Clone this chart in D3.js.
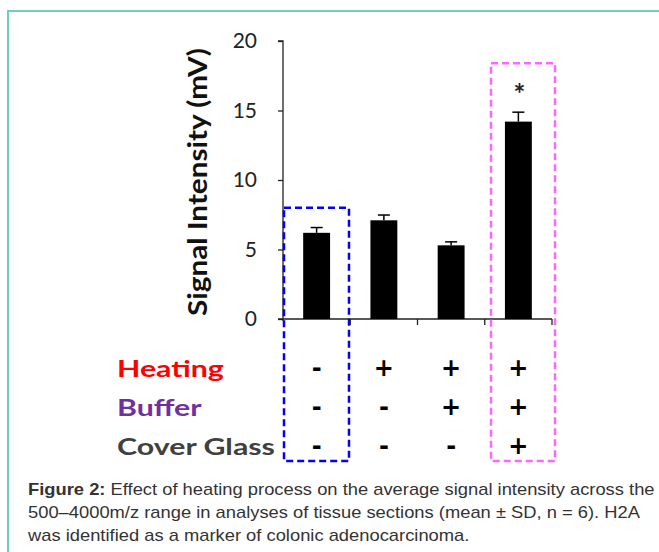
<!DOCTYPE html>
<html><head><meta charset="utf-8">
<script src="https://cdn.jsdelivr.net/npm/d3@7"></script>
<style>
html,body{margin:0;padding:0;background:#fff;}
svg{display:block;}
</style></head>
<body>
<svg id="chart" width="659" height="552"></svg>
<script>
// ---- data ----
const categories = ["A", "B", "C", "D"];
const means = [6.2, 7.1, 5.3, 14.2];
const sds = [0.38, 0.38, 0.25, 0.68];
const yTicks = [0, 5, 10, 15, 20];
const rowLabels = ["Heating", "Buffer", "Cover Glass"];
const rowColors = ["#ff0000", "#7030a0", "#404040"];
const heating = ["-", "+", "+", "+"];
const buffer = ["-", "-", "+", "+"];
const coverGlass = ["-", "-", "-", "+"];
const signs = [heating, buffer, coverGlass];
const significant = [false, false, false, true];
const captionLines = [
  ["Figure 2:", " Effect of heating process on the average signal intensity across the"],
  ["", "500\u20134000m/z range in analyses of tissue sections (mean \u00b1 SD, n = 6). H2A"],
  ["", "was identified as a marker of colonic adenocarcinoma."]
];

(function () {
const svg = d3.select("#chart");

// frame
svg.append("path").attr("d", "M8,552 L8,11 L659,11").attr("fill", "none")
  .attr("stroke", "#6ccfbf").attr("stroke-width", 2);

const pl = 283, pr = 552, pt = 41, pb = 319;
const x = d3.scaleBand().domain(categories).range([pl, pr]).paddingInner(0.6).paddingOuter(0.3);
const xb = d3.scaleBand().domain(categories).range([pl, pr]);
const y = d3.scaleLinear().domain([0, 20]).range([pb, pt]);

const font = "Lato, 'Open Sans', sans-serif";

// y axis
const yAxis = svg.append("g").attr("transform", `translate(${pl},0)`)
  .call(d3.axisLeft(y).tickValues(yTicks).tickSize(5).tickPadding(8));
yAxis.select(".domain").attr("d", `M-5,${pt}H0V${pb+2}`).attr("stroke", "#222").attr("stroke-width", 1.3);
yAxis.selectAll(".tick line").attr("stroke", "#222").attr("stroke-width", 1.3);
yAxis.selectAll(".tick text").attr("font-family", font).attr("font-size", 21).attr("fill", "#222").attr("dx", -13);

// x axis
const xAxis = svg.append("g").attr("transform", `translate(0,${pb})`);
xAxis.append("line").attr("x1", pl - 5).attr("x2", pr).attr("stroke", "#222").attr("stroke-width", 1.3);
xAxis.selectAll("line.t").data(categories.slice(1)).join("line").attr("class", "t")
  .attr("x1", d => xb(d)).attr("x2", d => xb(d)).attr("y1", 0).attr("y2", 6)
  .attr("stroke", "#222").attr("stroke-width", 1.3);
xAxis.append("line").attr("x1", pr).attr("x2", pr).attr("y1", 0).attr("y2", 6)
  .attr("stroke", "#222").attr("stroke-width", 1.3);

// y label
svg.append("text").attr("transform", `translate(207,${(pt + pb) / 2 + 2}) rotate(-90)`)
  .attr("text-anchor", "middle").attr("font-family", font).attr("font-weight", "bold")
  .attr("font-size", 27).attr("fill", "#111")
  .attr("textLength", 268).attr("lengthAdjust", "spacingAndGlyphs")
  .text("Signal Intensity  (mV)");

// bars
svg.selectAll("rect.bar").data(categories).join("rect").attr("class", "bar")
  .attr("x", d => x(d)).attr("width", x.bandwidth())
  .attr("y", (d, i) => y(means[i])).attr("height", (d, i) => y(0) - y(means[i]))
  .attr("fill", "#000");

// error bars
categories.forEach((c, i) => {
  const cx = x(c) + x.bandwidth() / 2;
  svg.append("line").attr("x1", cx).attr("x2", cx).attr("y1", y(means[i])).attr("y2", y(means[i] + sds[i]))
    .attr("stroke", "#000").attr("stroke-width", 1.5);
  svg.append("line").attr("x1", cx - 6).attr("x2", cx + 6).attr("y1", y(means[i] + sds[i])).attr("y2", y(means[i] + sds[i]))
    .attr("stroke", "#000").attr("stroke-width", 1.5);
  if (significant[i]) {
    svg.append("text").attr("x", cx + 1).attr("y", 104).attr("text-anchor", "middle")
      .attr("font-family", font).attr("font-weight", "bold").attr("font-size", 28).attr("fill", "#222").text("*");
  }
});

// row labels and signs
const rowY = [377, 416, 455];
const labelG = svg.append("g");
rowLabels.forEach((lab, r) => {
  labelG.append("text").attr("x", 0).attr("y", rowY[r]).attr("font-family", font).attr("font-weight", "bold")
    .attr("font-size", 23).attr("fill", rowColors[r]).text(lab);
  categories.forEach((c, i) => {
    const cx = x(c) + x.bandwidth() / 2;
    const s = signs[r][i];
    svg.append("text").attr("x", cx).attr("y", rowY[r] - 1).attr("text-anchor", "middle")
      .attr("font-family", "'DejaVu Sans', sans-serif").attr("font-weight", "bold").attr("font-size", 24).attr("fill", "#000").text(s);
  });
});
// horizontal stretch so "Cover Glass" spans the same width as in the reference
const longest = labelG.selectAll("text").nodes()[2].getComputedTextLength();
labelG.attr("transform", `translate(117,0) scale(${158 / longest},1)`);

// dashed boxes
svg.append("path").attr("d", `M${xb("A") + 1},${y(8)} H349 V461 H${xb("A") + 1} Z`)
  .attr("fill", "none").attr("stroke", "#0000ff").attr("stroke-width", 2.5).attr("stroke-dasharray", "7,4");
svg.append("path").attr("d", `M491,${y(18.4)} H555 V461 H491 Z`)
  .attr("fill", "none").attr("stroke", "#ff66ff").attr("stroke-width", 2.5).attr("stroke-dasharray", "7,4");

// caption
const cap = svg.append("g");
const capTexts = [];
captionLines.forEach((ln, i) => {
  const t = cap.append("text").attr("x", 0).attr("y", 495 + i * 23)
    .attr("font-family", "'Liberation Sans', Arial, sans-serif").attr("font-size", 16).attr("fill", "#333");
  if (ln[0]) t.append("tspan").attr("font-weight", "bold").text(ln[0]);
  t.append("tspan").text(ln[1]);
  capTexts.push(t.node());
});
const l1 = capTexts[0].getComputedTextLength();
cap.attr("transform", `translate(28,0) scale(${627 / l1},1)`);
})();
</script>
</body></html>
